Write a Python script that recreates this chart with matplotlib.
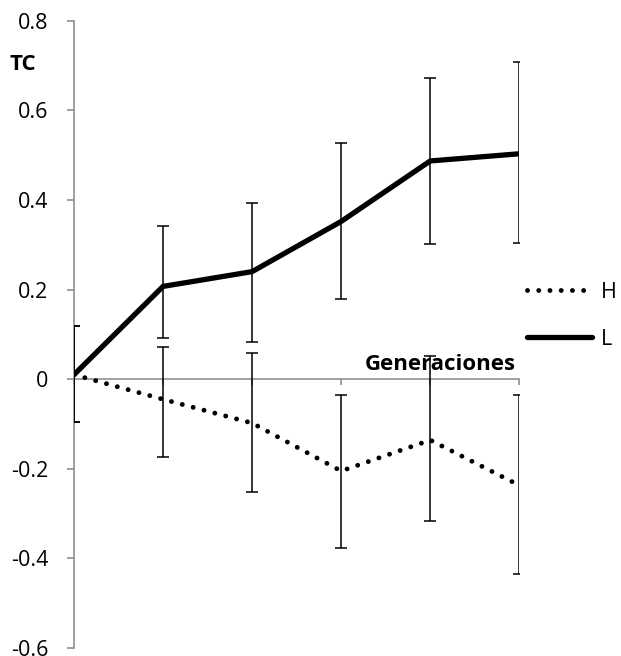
import matplotlib
matplotlib.use("Agg")
import matplotlib.pyplot as plt
from matplotlib.lines import Line2D

plt.rcParams['font.family'] = ['Open Sans', 'DejaVu Sans']

generations = [0, 1, 2, 3, 4, 5]

# Series L (solid)
L_values = [0.010, 0.207, 0.240, 0.352, 0.487, 0.503]
L_err_low = [0.105, 0.115, 0.157, 0.174, 0.185, 0.200]
L_err_high = [0.108, 0.135, 0.153, 0.176, 0.185, 0.204]

# Series H (dotted)
H_values = [0.010, -0.045, -0.098, -0.205, -0.136, -0.237]
H_err_low = [0.105, 0.129, 0.153, 0.171, 0.181, 0.198]
H_err_high = [0.108, 0.116, 0.157, 0.169, 0.188, 0.201]

y_ticks = [-0.6, -0.4, -0.2, 0, 0.2, 0.4, 0.6, 0.8]
y_tick_labels = ['-0.6', '-0.4', '-0.2', '0', '0.2', '0.4', '0.6', '0.8']

fig = plt.figure(figsize=(6.21, 6.56), dpi=100)
ax = fig.add_axes([74/621, 1 - 648/656, (519.3 - 74)/621, (648 - 20.7)/656])

gray = '#868686'
dot_style = (0, (0.01, 2.3))

ax.errorbar(generations, L_values, yerr=[L_err_low, L_err_high], fmt='none',
            ecolor='black', elinewidth=1.1, capsize=4.5, capthick=1.1, zorder=3)
ax.errorbar(generations, H_values, yerr=[H_err_low, H_err_high], fmt='none',
            ecolor='black', elinewidth=1.1, capsize=4.5, capthick=1.1, zorder=3)

ax.plot(generations, H_values, color='black', linewidth=3.5, linestyle=dot_style,
        dash_capstyle='round', zorder=4, label='H')
ax.plot(generations, L_values, color='black', linewidth=3.8, solid_capstyle='round',
        zorder=4, label='L')

ax.set_xlim(0, 5)
ax.set_ylim(-0.6, 0.8)
ax.set_yticks(y_ticks)
ax.set_yticklabels(y_tick_labels, fontsize=15.5)
ax.set_xticks(generations)
ax.set_xticklabels([])

for s in ['top', 'right']:
    ax.spines[s].set_visible(False)
ax.spines['left'].set_color(gray)
ax.spines['bottom'].set_color(gray)
ax.spines['left'].set_linewidth(1.1)
ax.spines['bottom'].set_linewidth(1.1)
ax.spines['bottom'].set_position(('data', 0))
ax.tick_params(axis='y', direction='out', length=5, width=1.1, color=gray, pad=13.5)
ax.tick_params(axis='x', direction='out', length=4, width=1.1, color=gray)

ax.text(4.965, 0.02, 'Generaciones', fontsize=16, fontweight='bold',
        ha='right', va='baseline')
fig.text(23/621, 1 - 65/656, 'TC', fontsize=16, fontweight='bold', ha='center', va='center')

handles = [Line2D([], [], color='black', linewidth=3.5, linestyle=dot_style, dash_capstyle='round'),
           Line2D([], [], color='black', linewidth=3.8, solid_capstyle='round')]
fig.legend(handles, ['H', 'L'], loc='upper left', bbox_to_anchor=(527/621, 1 - 282/656),
           frameon=False, fontsize=15.5, handlelength=3.0, handletextpad=0.43, labelspacing=1.2,
           borderaxespad=0, borderpad=0)

fig.savefig('out.png', dpi=100)
